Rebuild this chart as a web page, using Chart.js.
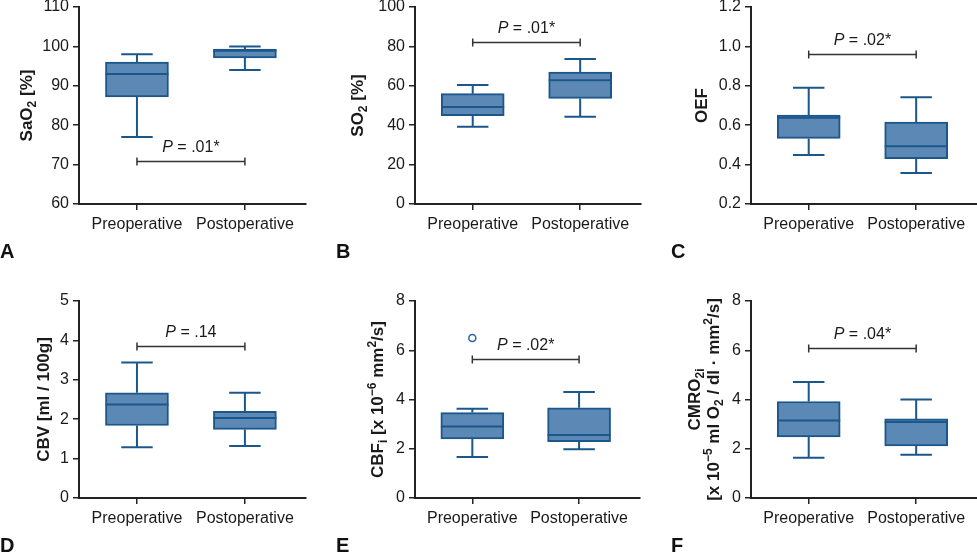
<!DOCTYPE html>
<html>
<head>
<meta charset="utf-8">
<script src="https://cdn.jsdelivr.net/npm/chart.js@4.4.1/dist/chart.umd.min.js"></script>
<style>
  html, body { margin: 0; padding: 0; background: #fff; }
  #wrap { position: relative; width: 977px; height: 552px; overflow: hidden; }
  canvas { position: absolute; }
</style>
</head>
<body>
<div id="wrap">
  <canvas id="chartA" width="320" height="276" style="left:0;top:0"></canvas>
  <canvas id="chartB" width="325" height="276" style="left:320px;top:0"></canvas>
  <canvas id="chartC" width="332" height="276" style="left:645px;top:0"></canvas>
  <canvas id="chartD" width="320" height="276" style="left:0;top:276px"></canvas>
  <canvas id="chartE" width="325" height="276" style="left:320px;top:276px"></canvas>
  <canvas id="chartF" width="332" height="276" style="left:645px;top:276px"></canvas>
</div>
<script>
var categories = ['Preoperative', 'Postoperative'];

// each group: [min, q1, median, q3, max]
var sao2 = [[77, 87.2, 93, 96, 98], [94, 97.1, 98.9, 99.3, 100]];
var so2 = [[39.2, 44.8, 49.2, 56, 60.4], [44.3, 53.6, 62.8, 67, 73.6]];
var oef = [[0.449, 0.533, 0.638, 0.652, 0.79], [0.357, 0.43, 0.493, 0.616, 0.742]];
var cbv = [[1.29, 1.84, 2.37, 2.67, 3.44], [1.32, 1.74, 2.03, 2.2, 2.67]];
var cbf = [[1.67, 2.4, 2.9, 3.47, 3.62], [1.98, 2.29, 2.56, 3.66, 4.3]];
var cmro2 = [[1.63, 2.48, 3.15, 3.92, 4.71], [1.76, 2.12, 3.09, 3.21, 4.0]];
var cbfOutliers = [[6.5], []];

var pValues = ['.01*', '.01*', '.02*', '.14', '.02*', '.04*'];
var pBracketAt = [71, 82, 0.96, 3.86, 5.63, 6.1];

var yMin = [60, 0, 0.2, 0, 0, 0];
var yMax = [110, 100, 1.2, 5, 8, 8];
var yStep = [10, 20, 0.2, 1, 2, 2];

var FONT = "'Liberation Sans', Arial, Helvetica, sans-serif";
var BOX_FILL = '#5b88b4';
var BOX_EDGE = '#1c578b';
var AXIS = '#222';
var TEXT = '#1a1a1a';

Chart.defaults.font.family = FONT;

// axis titles as [text, kind] parts so sub/superscripts draw right
var titles = [
    [[['SaO', 'n'], ['2', 'sub'], [' [%]', 'n']]],
    [[['SO', 'n'], ['2', 'sub'], [' [%]', 'n']]],
    [[['OEF', 'n']]],
    [[['CBV [ml / 100g]', 'n']]],
    [[['CBF', 'n'], ['i', 'sub'], [' [x 10', 'n'], ['\u22126', 'sup'], [' mm', 'n'], ['2', 'sup'], ['/s]', 'n']]],
    [[['CMRO', 'n'], ['2i', 'sub']],
     [['[x 10', 'n'], ['\u22125', 'sup'], [' ml O', 'n'], ['2', 'sub'], [' / dl \u00b7 mm', 'n'], ['2', 'sup'], ['/s]', 'n']]]
];

var panels = [
    { id: 'chartA', letter: 'A', stats: sao2, outliers: null, axisLeft: 79, padRight: 14, titleX: 26, letterX: 0, row: 0 },
    { id: 'chartB', letter: 'B', stats: so2, outliers: null, axisLeft: 95, padRight: 4, titleX: 37, letterX: 16, row: 0 },
    { id: 'chartC', letter: 'C', stats: oef, outliers: null, axisLeft: 106, padRight: 0, titleX: 56, letterX: 26, row: 0, decimals: 1 },
    { id: 'chartD', letter: 'D', stats: cbv, outliers: null, axisLeft: 79, padRight: 14, titleX: 43, letterX: 0, row: 1 },
    { id: 'chartE', letter: 'E', stats: cbf, outliers: cbfOutliers, axisLeft: 95, padRight: 4, titleX: 57, letterX: 16, row: 1 },
    { id: 'chartF', letter: 'F', stats: cmro2, outliers: null, axisLeft: 106, padRight: 0, titleX: 58, letterX: 26, row: 1 }
];

function drawRich(ctx, parts, cx, cy) {
    var widths = parts.map(function (p) {
        ctx.font = 'bold ' + (p[1] === 'n' ? 17 : 12) + 'px ' + FONT;
        return ctx.measureText(p[0]).width;
    });
    var total = widths.reduce(function (a, b) { return a + b; }, 0);
    var x = cx - total / 2;
    var base = cy + 6;
    ctx.textBaseline = 'alphabetic';
    ctx.textAlign = 'left';
    parts.forEach(function (p, k) {
        ctx.font = 'bold ' + (p[1] === 'n' ? 17 : 12) + 'px ' + FONT;
        var dy = p[1] === 'sub' ? 4 : (p[1] === 'sup' ? -7 : 0);
        ctx.fillText(p[0], x, base + dy);
        x += widths[k];
    });
}

function makeExtras(panel, idx) {
    return {
        id: 'boxExtras' + idx,
        afterDatasetsDraw: function (chart) {
            var ctx = chart.ctx;
            var xs = chart.scales.x, ys = chart.scales.y;
            var meta = chart.getDatasetMeta(0);
            ctx.save();
            ctx.strokeStyle = BOX_EDGE;
            ctx.lineWidth = 2;
            panel.stats.forEach(function (s, i) {
                var bar = meta.data[i];
                var cx = bar.x, half = bar.width / 2, cap = bar.width / 4;
                var yMinP = ys.getPixelForValue(s[0]);
                var yQ1 = ys.getPixelForValue(s[1]);
                var yMed = ys.getPixelForValue(s[2]);
                var yQ3 = ys.getPixelForValue(s[3]);
                var yMaxP = ys.getPixelForValue(s[4]);
                ctx.beginPath();
                // whiskers
                ctx.moveTo(cx, yQ3); ctx.lineTo(cx, yMaxP);
                ctx.moveTo(cx - cap, yMaxP); ctx.lineTo(cx + cap, yMaxP);
                ctx.moveTo(cx, yQ1); ctx.lineTo(cx, yMinP);
                ctx.moveTo(cx - cap, yMinP); ctx.lineTo(cx + cap, yMinP);
                // median
                ctx.moveTo(cx - half, yMed); ctx.lineTo(cx + half, yMed);
                ctx.stroke();
            });

            // significance bracket
            var x0 = xs.getPixelForValue(0), x1 = xs.getPixelForValue(1);
            var by = Math.round(ys.getPixelForValue(pBracketAt[idx])) + 0.5;
            ctx.strokeStyle = '#333';
            ctx.lineWidth = 1.5;
            ctx.beginPath();
            ctx.moveTo(x0, by); ctx.lineTo(x1, by);
            ctx.moveTo(x0, by - 4); ctx.lineTo(x0, by + 4);
            ctx.moveTo(x1, by - 4); ctx.lineTo(x1, by + 4);
            ctx.stroke();

            ctx.fillStyle = TEXT;
            ctx.textBaseline = 'alphabetic';
            ctx.textAlign = 'left';
            ctx.font = 'italic 16px ' + FONT;
            var wP = ctx.measureText('P').width;
            ctx.font = '16px ' + FONT;
            var rest = ' = ' + pValues[idx];
            var wR = ctx.measureText(rest).width;
            var tx = (x0 + x1) / 2 - (wP + wR) / 2;
            ctx.font = 'italic 16px ' + FONT;
            ctx.fillText('P', tx, by - 10);
            ctx.font = '16px ' + FONT;
            ctx.fillText(rest, tx + wP, by - 10);
            ctx.restore();
        },
        afterDraw: function (chart) {
            var ctx = chart.ctx;
            var area = chart.chartArea;
            var lines = titles[idx];
            ctx.save();
            ctx.fillStyle = TEXT;
            ctx.translate(panel.titleX, (area.top + area.bottom) / 2);
            ctx.rotate(-Math.PI / 2);
            lines.forEach(function (parts, k) {
                var off = (k - (lines.length - 1) / 2) * 19;
                drawRich(ctx, parts, 0, off);
            });
            ctx.restore();

            ctx.save();
            ctx.fillStyle = '#111';
            ctx.font = 'bold 20px ' + FONT;
            ctx.textAlign = 'left';
            ctx.textBaseline = 'alphabetic';
            ctx.fillText(panel.letter, panel.letterX, panel.row === 0 ? 258 : 276);
            ctx.restore();
        }
    };
}

panels.forEach(function (panel, idx) {
    var el = document.getElementById(panel.id);
    var top = panel.row === 0 ? 7 : 25;
    var bottom = panel.row === 0 ? 204 : 222;
    var datasets = [{
        type: 'bar',
        data: panel.stats.map(function (s, i) { return { x: i, y: [s[1], s[3]] }; }),
        backgroundColor: BOX_FILL,
        borderColor: BOX_EDGE,
        borderWidth: 2,
        borderSkipped: false,
        barThickness: 63,
        grouped: false
    }];
    if (panel.outliers) {
        var pts = [];
        panel.outliers.forEach(function (list, i) {
            list.forEach(function (v) { pts.push({ x: i, y: v }); });
        });
        datasets.push({
            type: 'scatter',
            data: pts,
            pointRadius: 3.5,
            pointBorderWidth: 1.5,
            pointBorderColor: '#2566a3',
            pointBackgroundColor: '#fff'
        });
    }
    new Chart(el, {
        type: 'bar',
        data: { datasets: datasets },
        options: {
            responsive: false,
            animation: false,
            events: [],
            layout: { padding: { top: top, right: panel.padRight, bottom: 0, left: 0 } },
            plugins: { legend: { display: false }, tooltip: { enabled: false } },
            scales: {
                x: {
                    type: 'linear',
                    min: -0.537,
                    max: 1.566,
                    offset: false,
                    afterBuildTicks: function (s) {
                        s.ticks = categories.map(function (c, i) { return { value: i }; });
                    },
                    afterFit: function (s) {
                        s.height = 276 - bottom;
                        s.paddingLeft = 0;
                        s.paddingRight = 0;
                    },
                    ticks: {
                        callback: function (v) { return categories[v]; },
                        autoSkip: false,
                        maxRotation: 0,
                        padding: 5,
                        color: TEXT,
                        font: { size: 16 }
                    },
                    grid: { offset: false, drawOnChartArea: false, drawTicks: true, tickLength: 6, color: AXIS, lineWidth: 1.5 },
                    border: { display: true, color: AXIS, width: 2 }
                },
                y: {
                    min: yMin[idx],
                    max: yMax[idx],
                    afterFit: function (s) {
                        s.width = panel.axisLeft;
                        s.paddingTop = 0;
                        s.paddingBottom = 0;
                    },
                    ticks: {
                        stepSize: yStep[idx],
                        padding: 4,
                        color: TEXT,
                        font: { size: 16 },
                        callback: function (v) { return panel.decimals ? v.toFixed(panel.decimals) : v; }
                    },
                    grid: { drawOnChartArea: false, drawTicks: true, tickLength: 6, color: AXIS, lineWidth: 1.5 },
                    border: { display: true, color: AXIS, width: 2 }
                }
            }
        },
        plugins: [makeExtras(panel, idx)]
    });
});
</script>
</body>
</html>
